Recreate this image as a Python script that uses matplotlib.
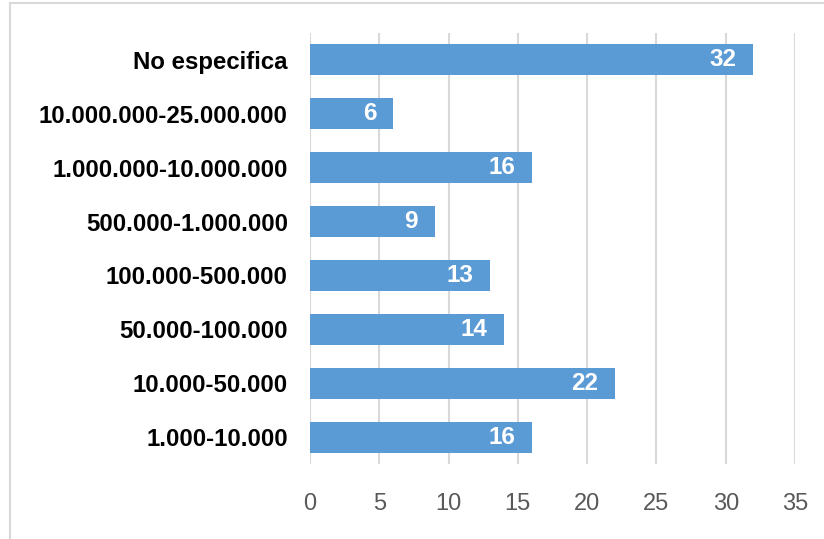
import matplotlib
matplotlib.use("Agg")
import matplotlib.pyplot as plt
from matplotlib.lines import Line2D

categories = ["1.000-10.000", "10.000-50.000", "50.000-100.000", "100.000-500.000",
              "500.000-1.000.000", "1.000.000-10.000.000", "10.000.000-25.000.000",
              "No especifica"]
values = [16, 22, 14, 13, 9, 16, 6, 32]
xticks = [0, 5, 10, 15, 20, 25, 30, 35]

plt.rcParams['font.family'] = ['Liberation Sans', 'DejaVu Sans']

W, H = 824, 539
fig = plt.figure(figsize=(W / 100, H / 100), dpi=100)
# partial frame: left and top edges only
fig.lines.append(Line2D([9.5 / W, 9.5 / W], [0, 1 - 3 / H], transform=fig.transFigure,
                        color='#d9d9d9', linewidth=1.5))
fig.lines.append(Line2D([9.5 / W, 1], [1 - 3 / H, 1 - 3 / H], transform=fig.transFigure,
                        color='#d9d9d9', linewidth=1.5))

left, right, top, bottom = 310, 795, 33, 464
ax = fig.add_axes([left / W, 1 - bottom / H, (right - left) / W, (bottom - top) / H])

ypos = list(range(len(categories)))
ax.barh(ypos, values, height=0.575, color='#5b9bd5', zorder=3)
ax.set_xlim(0, 35)
ax.set_ylim(-0.5, len(categories) - 0.5)
ax.set_xticks(xticks)
ax.set_xticklabels([str(t) for t in xticks])
ax.set_yticks(ypos)
ax.set_yticklabels(categories, fontsize=17.3, fontweight='bold', color='black')
ax.tick_params(axis='x', length=0, pad=21, labelsize=17, labelcolor='#595959')
ax.tick_params(axis='y', length=0, pad=16)
ax.grid(axis='x', color='#d9d9d9', linewidth=1.5, zorder=0)
for s in ax.spines.values():
    s.set_visible(False)

for y, v in zip(ypos, values):
    ax.annotate(str(v), xy=(v, y), xytext=(-12, 0), textcoords='offset points',
                ha='right', va='center', color='white', fontsize=17.5,
                fontweight='bold', zorder=4)

fig.savefig('out.png', dpi=100)
